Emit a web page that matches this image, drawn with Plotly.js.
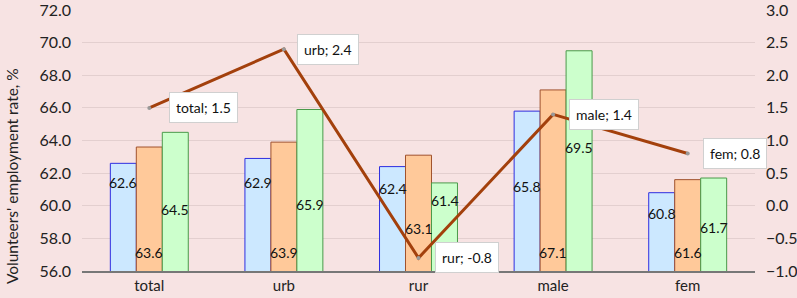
<!DOCTYPE html>
<html>
<head>
<meta charset="utf-8">
<script src="https://cdn.plot.ly/plotly-3.0.1.min.js"></script>
<style>html,body{margin:0;padding:0;background:#F7E3E3;}#chart{width:797px;height:298px;}</style>
</head>
<body>
<div id="chart"></div>
<script>
const categories = ["total", "urb", "rur", "male", "fem"];
const seriesA = [62.6, 62.9, 62.4, 65.8, 60.8];
const seriesB = [63.6, 63.9, 63.1, 67.1, 61.6];
const seriesC = [64.5, 65.9, 61.4, 69.5, 61.7];
const lineValues = [1.5, 2.4, -0.8, 1.4, 0.8];

// label placement (layout constants, in left-axis units)
const labelPosA = [61.4, 61.4, 61.05, 61.2, 59.5];
const labelPosB = [57.15, 57.15, 58.6, 57.15, 57.15];
const labelPosC = [59.8, 60.1, 60.3, 63.6, 58.65];
const calloutShift = [54, 44, 48, 51, 47];

const FONT = "Lato, 'Open Sans', sans-serif";
const barW = 0.193;

function bar(vals, fill, line, off) {
  return {type: "bar", x: categories, y: vals, width: barW, offset: off,
    marker: {color: fill, line: {color: line, width: 1}}, hoverinfo: "skip", showlegend: false};
}

const traces = [
  bar(seriesA, "#CCE8FF", "#2E2EE0", -1.5 * barW),
  bar(seriesB, "#FFC99A", "#A0522D", -0.5 * barW),
  bar(seriesC, "#CCFFCC", "#4A9A4A", 0.5 * barW),
  {type: "scatter", mode: "lines+markers", x: categories, y: lineValues, yaxis: "y2",
    line: {color: "#A3400C", width: 3}, marker: {size: 4, color: "#999"}, showlegend: false, hoverinfo: "skip"}
];

const annotations = [];
const shifts = [-26, 0, 26];
[[seriesA, labelPosA], [seriesB, labelPosB], [seriesC, labelPosC]].forEach((pair, s) => {
  pair[0].forEach((v, i) => {
    annotations.push({x: categories[i], y: pair[1][i], xref: "x", yref: "y", xshift: shifts[s],
      text: v.toFixed(1), showarrow: false, font: {family: FONT, size: 14, color: "#111"}});
  });
});
lineValues.forEach((v, i) => {
  annotations.push({x: categories[i], y: v, xref: "x", yref: "y2", xshift: calloutShift[i],
    text: categories[i] + "; " + v.toFixed(1), showarrow: false, bgcolor: "#FFFFFF",
    bordercolor: "#D0D0D0", borderwidth: 1, borderpad: 6,
    font: {family: FONT, size: 14, color: "#111"}});
});
annotations.push({xref: "paper", yref: "paper", x: -0.105, y: 0.365, xanchor: "center", yanchor: "middle",
  textangle: -90, text: "Volunteers' employment rate, %", showarrow: false,
  font: {family: FONT, size: 15.5, color: "#222"}});

const layout = {
  width: 797, height: 298,
  margin: {l: 82, r: 42, t: 10, b: 27},
  paper_bgcolor: "#F7E3E3", plot_bgcolor: "#F7E3E3",
  font: {family: FONT, size: 15, color: "#222"},
  barmode: "overlay",
  xaxis: {type: "category", showgrid: false, showline: true, linecolor: "#777", linewidth: 2,
    ticks: "", tickfont: {size: 15}, range: [-0.5, 4.5]},
  yaxis: {range: [56, 72.0001], dtick: 2, tick0: 56, tickformat: ".1f", showgrid: true, gridcolor: "#E3CFCF",
    zeroline: false, ticks: "", ticklabelstandoff: 10, ticklabeloverflow: "allow", tickfont: {size: 16}},
  yaxis2: {range: [-1, 3.0001], dtick: 0.5, tick0: -1, tickformat: ".1f", overlaying: "y", side: "right",
    showgrid: false, zeroline: false, ticks: "", ticklabelstandoff: 10, ticklabeloverflow: "allow", tickfont: {size: 16}},
  annotations: annotations
};

Plotly.newPlot("chart", traces, layout, {staticPlot: true});
</script>
</body>
</html>
